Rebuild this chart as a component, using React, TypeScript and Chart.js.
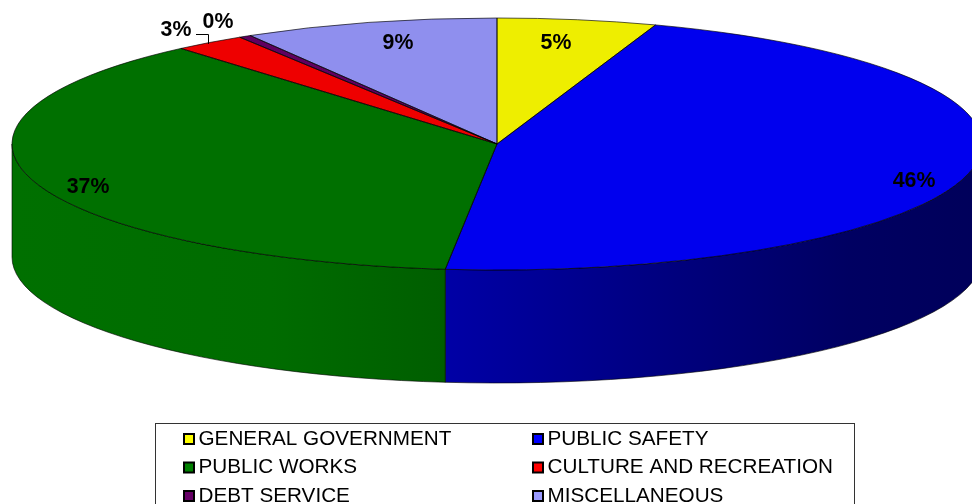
import React, { useEffect, useRef } from "react";
import { Chart, registerables } from "chart.js";

Chart.register(...registerables);

const categories = ["GENERAL GOVERNMENT", "PUBLIC SAFETY", "PUBLIC WORKS", "CULTURE AND RECREATION", "DEBT SERVICE", "MISCELLANEOUS"];
const shares = [5.3, 46.4, 37.0, 2.4, 0.4, 8.5];
const percentLabels = ["5%", "46%", "37%", "3%", "0%", "9%"];
const topColors = ["#EEEE00", "#0000EE", "#007000", "#EE0000", "#600060", "#8F8FEE"];
const legendColors = ["#FFFF00", "#0000FF", "#008000", "#FF0000", "#660066", "#9999FF"];

const W = 972, H = 504;
const CY = 144, RX = 485, RY = 126, DEPTH = 113;
const K = RY / RX;
const labelAnchors = [[556, 43], [914, 181], [88, 187], [176, 30], [218, 22], [398, 43]];
const wallStops: Record<number, [number, string][]> = {
  1: [[0, "#0000A6"], [0.4, "#000080"], [0.75, "#000062"], [1, "#00005A"]],
  2: [[0, "#007000"], [0.6, "#006C00"], [1, "#005E00"]],
};

const pie3d = {
  id: "pie3d",
  beforeDatasetsDraw(chart: any) {
    const ctx = chart.ctx;
    const arcs = chart.getDatasetMeta(0).data;
    const cx = arcs[0].x;
    arcs.forEach((arc: any, i: number) => {
      const a = Math.max(arc.startAngle, 0);
      const b = Math.min(arc.endAngle, Math.PI);
      if (b <= a) return;
      const x0 = cx + RX * Math.cos(b), x1 = cx + RX * Math.cos(a);
      const g = ctx.createLinearGradient(x0, 0, x1, 0);
      (wallStops[i] || [[0, topColors[i]], [1, topColors[i]]]).forEach(([o, c]: any) => g.addColorStop(o, c));
      ctx.save();
      ctx.beginPath();
      ctx.ellipse(cx, CY, RX, RY, 0, a, b);
      ctx.ellipse(cx, CY + DEPTH, RX, RY, 0, b, a, true);
      ctx.closePath();
      ctx.fillStyle = g;
      ctx.fill();
      ctx.strokeStyle = "rgba(0,0,0,0.6)";
      ctx.lineWidth = 1;
      ctx.stroke();
      ctx.restore();
    });
    ctx.save();
    ctx.translate(0, CY);
    ctx.scale(1, K);
    ctx.translate(0, -arcs[0].y);
  },
  afterDatasetsDraw(chart: any) {
    const ctx = chart.ctx;
    ctx.restore();
    const arcs = chart.getDatasetMeta(0).data;
    ctx.save();
    ctx.strokeStyle = "rgba(0,0,0,0.65)";
    ctx.lineWidth = 1;
    arcs.forEach((arc: any) => {
      ctx.beginPath();
      ctx.moveTo(arc.x, CY);
      ctx.ellipse(arc.x, CY, RX, RY, 0, arc.startAngle, arc.endAngle);
      ctx.closePath();
      ctx.stroke();
    });
    ctx.fillStyle = "#000";
    ctx.font = "bold 21.3px 'Liberation Sans', Arial, sans-serif";
    ctx.textAlign = "center";
    ctx.textBaseline = "middle";
    percentLabels.forEach((t, i) => ctx.fillText(t, labelAnchors[i][0], labelAnchors[i][1]));
    ctx.strokeStyle = "#000";
    ctx.beginPath();
    ctx.moveTo(196, 34.5);
    ctx.lineTo(208.5, 34.5);
    ctx.lineTo(208.5, 44);
    ctx.stroke();

    // legend box
    ctx.strokeStyle = "#333";
    ctx.lineWidth = 1;
    ctx.strokeRect(155.5, 423.5, 699, 120);
    ctx.font = "20.7px 'Liberation Sans', Arial, sans-serif";
    ctx.textAlign = "left";
    categories.forEach((name, i) => {
      const col = i % 2, row = Math.floor(i / 2);
      const sx = col ? 532 : 183;
      const sy = 433 + row * 28.5;
      ctx.fillStyle = "#000";
      ctx.fillRect(sx, sy, 12, 12);
      ctx.fillStyle = legendColors[i];
      ctx.fillRect(sx + 2, sy + 2, 8, 8);
      ctx.fillStyle = "#000";
      ctx.fillText(name, sx + 15.5, sy + 6);
    });
    ctx.restore();
  },
};

export default function App() {
  const ref = useRef<HTMLCanvasElement>(null);
  useEffect(() => {
    const chart = new Chart(ref.current!, {
      type: "pie",
      data: {
        labels: categories,
        datasets: [{ data: shares, backgroundColor: topColors, borderWidth: 0, clip: false } as any],
      },
      options: {
        responsive: false,
        animation: false,
        radius: RX,
        layout: { padding: { left: 22, right: 0, top: 0, bottom: 0 } },
        plugins: { legend: { display: false }, tooltip: { enabled: false } },
      } as any,
      plugins: [pie3d],
    });
    return () => chart.destroy();
  }, []);
  return (
    <div style={{ position: "fixed", left: 0, top: 0, width: W, height: H, overflow: "hidden", background: "#fff" }}>
      <canvas ref={ref} width={W} height={H} style={{ display: "block" }} />
    </div>
  );
}
